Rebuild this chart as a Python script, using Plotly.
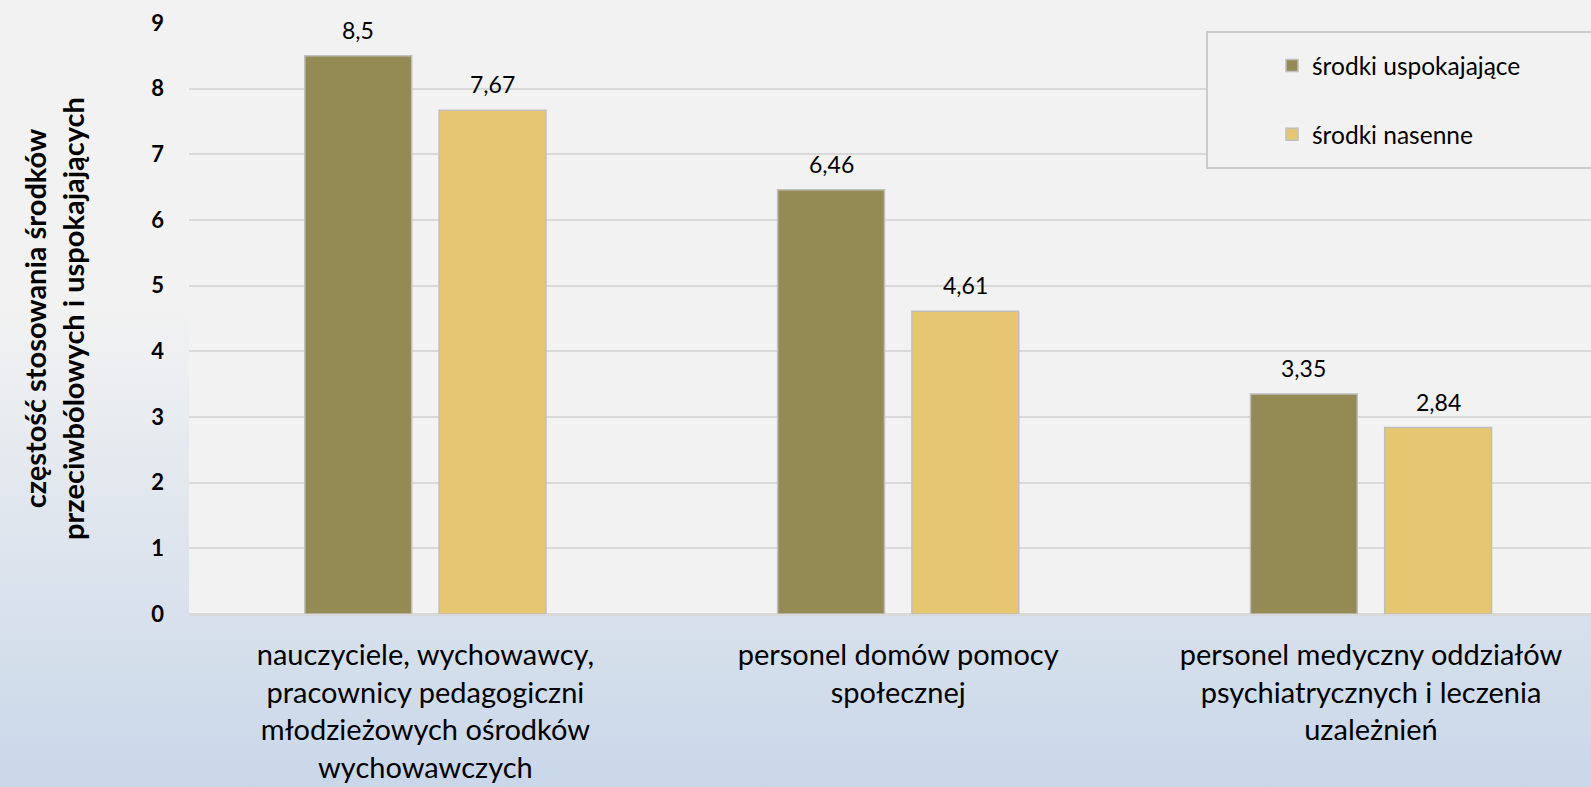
import base64
import plotly.graph_objects as go

categories = [
    "nauczyciele, wychowawcy,<br>pracownicy pedagogiczni<br>młodzieżowych ośrodków<br>wychowawczych",
    "personel domów pomocy<br>społecznej",
    "personel medyczny oddziałów<br>psychiatrycznych i leczenia<br>uzależnień",
]
series_names = ["środki uspokajające", "środki nasenne"]
uspokajajace = [8.5, 6.46, 3.35]
nasenne = [7.67, 4.61, 2.84]
y_ticks = [0, 1, 2, 3, 4, 5, 6, 7, 8, 9]
y_title = "częstość stosowania środków<br>przeciwbólowych i uspokajających"

W, H = 1591, 787
ML, MR, MT, MB = 189, 0, 23, 173
PW, PH = W - ML - MR, H - MT - MB
CAT_PX = 472.8
FONT = "Lato, 'Open Sans', sans-serif"

colors = ["#948a54", "#e6c670"]
bar_w = 0.226
offsets = [-0.255, 0.029]


def px_x(px):
    return (px - ML) / PW


def px_y(py):
    return (H - MB - py) / PH


fig = go.Figure()
for i, (name, vals) in enumerate(zip(series_names, [uspokajajace, nasenne])):
    fig.add_trace(go.Bar(
        x=categories, y=vals, name=name,
        width=bar_w, offset=offsets[i],
        marker=dict(color=colors[i], line=dict(color="#bfbfbf", width=1.5)),
        legendgroup=name,
    ))
    for j, v in enumerate(vals):
        fig.add_annotation(
            x=j + offsets[i] + bar_w / 2, y=v, xref="x", yref="y",
            text=str(v).replace(".", ","), showarrow=False,
            yanchor="bottom", yshift=10,
            font=dict(family=FONT, size=23, color="#000000"),
        )

svg = (
    f'<svg xmlns="http://www.w3.org/2000/svg" width="{W}" height="{H}" viewBox="0 0 {W} {H}" '
    'preserveAspectRatio="none"><defs><linearGradient id="g" x1="0" y1="0" x2="0" y2="1">'
    '<stop offset="0" stop-color="#f2f2f2"/><stop offset="0.39" stop-color="#f2f2f2"/>'
    '<stop offset="1" stop-color="#c9d7e9"/></linearGradient></defs>'
    f'<rect width="{W}" height="{H}" fill="url(#g)"/></svg>'
)
src = "data:image/svg+xml;base64," + base64.b64encode(svg.encode()).decode()

fig.add_layout_image(dict(
    source=src, xref="paper", yref="paper",
    x=px_x(0), y=px_y(0), sizex=W / PW, sizey=H / PH,
    xanchor="left", yanchor="top", sizing="stretch", layer="below",
))

# plot area fill
fig.add_shape(type="rect", xref="paper", yref="paper", x0=0, x1=1, y0=0, y1=px_y(0),
              fillcolor="#f2f2f2", line=dict(width=0), layer="below")
# legend box
fig.add_shape(type="rect", xref="paper", yref="paper",
              x0=px_x(1207), x1=px_x(1610), y0=px_y(168), y1=px_y(32),
              fillcolor="#f2f2f2", line=dict(color="#bfbfbf", width=1.5), layer="above")

fig.update_layout(
    width=W, height=H,
    margin=dict(l=ML, r=MR, t=MT, b=MB, autoexpand=False),
    paper_bgcolor="#f2f2f2", plot_bgcolor="rgba(0,0,0,0)",
    barmode="overlay",
    font=dict(family=FONT, color="#000000"),
    showlegend=True,
    legend=dict(
        x=px_x(1272), y=px_y(43), xanchor="left", yanchor="top",
        bgcolor="rgba(0,0,0,0)", borderwidth=0,
        font=dict(family=FONT, size=24.5, color="#000000"),
        traceorder="grouped", tracegroupgap=34,
    ),
    xaxis=dict(
        range=[-0.5, -0.5 + PW / CAT_PX],
        showgrid=False, showline=True, linecolor="#d9d9d9", linewidth=2,
        ticks="", tickfont=dict(family=FONT, size=29, color="#000000"),
        ticklabelstandoff=14, automargin=False,
    ),
    yaxis=dict(
        range=[0, 9], tickvals=y_ticks,
        showgrid=True, gridcolor="#d9d9d9", gridwidth=2,
        zeroline=True, zerolinecolor="#d9d9d9", zerolinewidth=2,
        ticks="", tickfont=dict(family=FONT, size=22, color="#000000", weight="bold"),
        ticklabelstandoff=24, automargin=False,
        title=dict(text=y_title, standoff=58,
                   font=dict(family=FONT, size=29, color="#000000", weight="bold")),
    ),
)

fig.write_html("out.html", config={"displayModeBar": False},
               post_script="document.body.style.margin='0';")
